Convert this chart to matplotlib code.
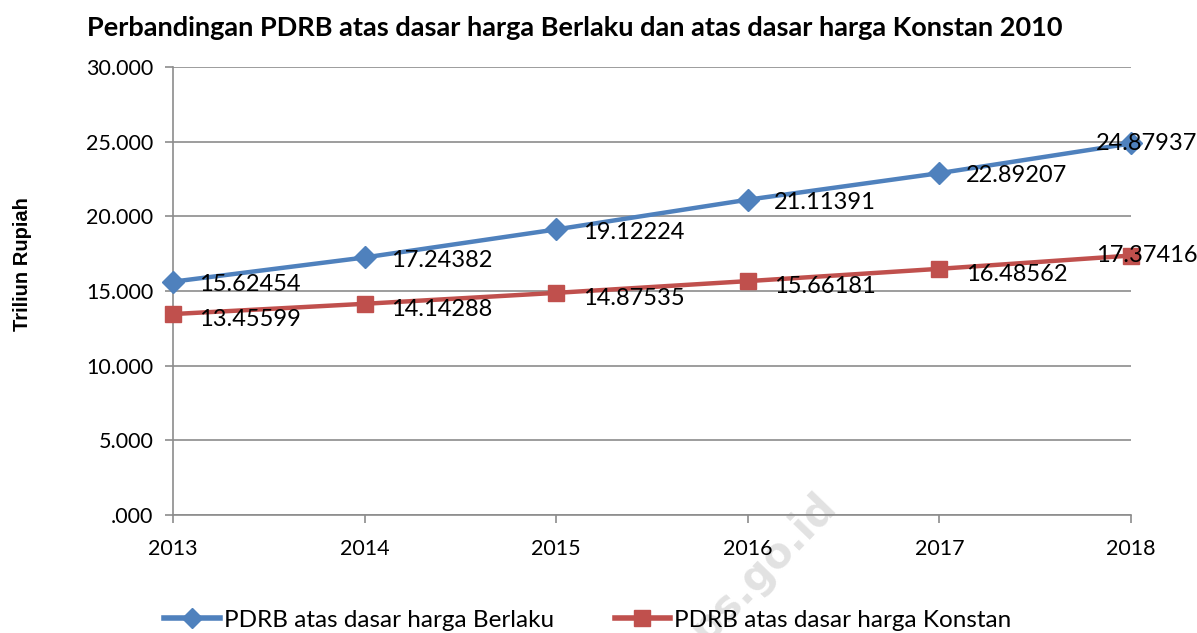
import numpy as np
import matplotlib.pyplot as plt
from matplotlib.lines import Line2D

years = ["2013", "2014", "2015", "2016", "2017", "2018"]
berlaku = [15.62454, 17.24382, 19.12224, 21.11391, 22.89207, 24.87937]
konstan = [13.45599, 14.14288, 14.87535, 15.66181, 16.48562, 17.37416]
berlaku_labels = ["15.62454", "17.24382", "19.12224", "21.11391", "22.89207", "24.87937"]
konstan_labels = ["13.45599", "14.14288", "14.87535", "15.66181", "16.48562", "17.37416"]
yticks = [0, 5, 10, 15, 20, 25, 30]
ytick_labels = [".000", "5.000", "10.000", "15.000", "20.000", "25.000", "30.000"]

title = "Perbandingan PDRB atas dasar harga Berlaku dan atas dasar harga Konstan 2010"
names = ["PDRB atas dasar harga Berlaku", "PDRB atas dasar harga Konstan"]

blue = "#4F81BD"
red = "#C0504D"
grid_col = "#8C8C8C"

plt.rcParams['font.family'] = ['Lato', 'DejaVu Sans']

fig = plt.figure(figsize=(11.97, 6.33), dpi=100)
ax = fig.add_axes([173 / 1197, 1 - 515 / 633, (1131 - 173) / 1197, (515 - 67) / 633])
ax.patch.set_alpha(0)

x = np.arange(len(years))

ax.plot(x, berlaku, color=blue, lw=3.2, marker="D", ms=11, mec=blue, mfc=blue,
        clip_on=False, zorder=3)
ax.plot(x, konstan, color=red, lw=3.2, marker="s", ms=12, mec=red, mfc=red,
        clip_on=False, zorder=3)

def label_points(vals, labels, dy):
    last = len(vals) - 1
    for i, (v, lab) in enumerate(zip(vals, labels)):
        if i == last:
            # pushed left so it stays inside the figure
            ax.annotate(lab, (x[i], v), xytext=(-25, 0), textcoords="offset points",
                        ha="left", va="center", fontsize=17, zorder=5,
                        annotation_clip=False)
        else:
            ax.annotate(lab, (x[i], v), xytext=(19, dy), textcoords="offset points",
                        ha="left", va="center", fontsize=17, zorder=5)

label_points(berlaku, berlaku_labels, -2)
label_points(konstan, konstan_labels, -4)

ax.set_xlim(0, len(years) - 1)
ax.set_ylim(0, 30)
ax.set_yticks(yticks)
ax.set_yticklabels(ytick_labels, fontsize=15.5)
ax.set_xticks(x)
ax.set_xticklabels(years, fontsize=15.5)
ax.yaxis.grid(True, color=grid_col, lw=1.2)
ax.set_axisbelow(True)
for s in ["top", "right"]:
    ax.spines[s].set_visible(False)
for s in ["left", "bottom"]:
    ax.spines[s].set_color(grid_col)
    ax.spines[s].set_linewidth(1.2)
ax.tick_params(axis="both", length=6, width=1.2, color=grid_col, direction="out")
ax.tick_params(axis="x", pad=11)
ax.tick_params(axis="y", pad=8)

fig.text(0.48, 0.956, title, ha="center", va="center", fontsize=19.5, fontweight="bold")
fig.text(0.019, 0.583, "Triliun Rupiah", rotation=90, ha="center", va="center",
         fontsize=14.5, fontweight="bold", family=["Liberation Sans", "DejaVu Sans"])

# faint watermark
fig.text(0.629, 0.088, "bps.go.id", rotation=46, ha="center", va="center",
         fontsize=30, fontweight="bold", color="#e2e2e2", zorder=-1,
         family=["DejaVu Sans"])

handles = [Line2D([], [], color=blue, lw=4, marker="D", ms=10),
           Line2D([], [], color=red, lw=4, marker="s", ms=11)]
fig.legend(handles, names, loc="center", bbox_to_anchor=(0.491, 0.02), ncol=2,
           frameon=False, fontsize=17.5, handlelength=2.3, handletextpad=0.15,
           columnspacing=2.5)

fig.savefig("out.png", dpi=100)
